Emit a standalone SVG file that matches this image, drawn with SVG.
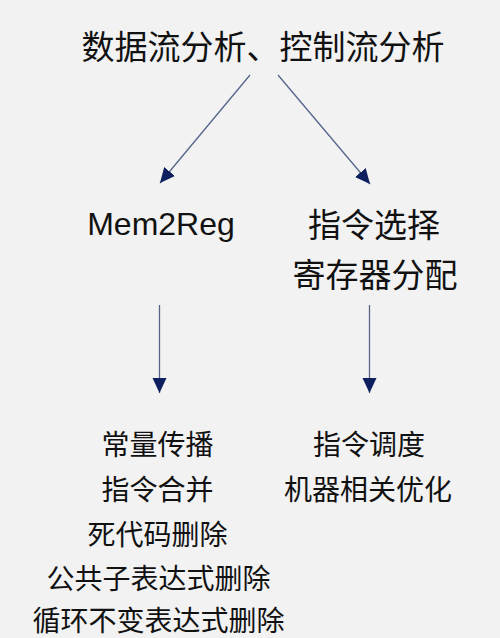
<svg xmlns="http://www.w3.org/2000/svg" width="500" height="638" viewBox="0 0 500 638">
<style>
.cjk{font-family:"Noto Sans CJK SC","Noto Sans",sans-serif;fill:#111;text-anchor:middle}
.big{font-size:33px}
.small{font-size:28px}
.lat{font-family:"Liberation Sans",Arial,sans-serif;font-size:32px;fill:#111;text-anchor:middle}
.edge{stroke:#56648c;stroke-width:1.3;fill:none;marker-end:url(#ah)}
</style>
<defs>
<marker id="ah" markerUnits="userSpaceOnUse" markerWidth="17" markerHeight="15" refX="15" refY="7" orient="auto">
<path d="M0,0 L15,7 L0,14 Z" fill="#0d1f5e"/>
</marker>
</defs>
<rect width="500" height="638" fill="#f2f2f2"/>
<g id="connectors">
<line class="edge" x1="250" y1="75" x2="160" y2="183"/>
<line class="edge" x1="278" y1="75" x2="370" y2="184"/>
<line class="edge" x1="159.5" y1="305" x2="159.5" y2="393"/>
<line class="edge" x1="369.5" y1="305" x2="369.5" y2="393"/>
</g>
<g id="analysis"><text class="cjk big" x="263" y="58.5">数据流分析、控制流分析</text></g>
<g id="mem2reg"><text class="lat" x="161" y="235">Mem2Reg</text></g>
<g id="isel-regalloc">
<text class="cjk big" x="374" y="236.5">指令选择</text>
<text class="cjk big" x="375" y="286.5">寄存器分配</text>
</g>
<g id="mid-opts">
<text class="cjk small" x="157.5" y="455">常量传播</text>
<text class="cjk small" x="157.5" y="500">指令合并</text>
<text class="cjk small" x="157.5" y="545">死代码删除</text>
<text class="cjk small" x="158.5" y="589">公共子表达式删除</text>
<text class="cjk small" x="158.5" y="631">循环不变表达式删除</text>
</g>
<g id="backend-opts">
<text class="cjk small" x="369" y="455">指令调度</text>
<text class="cjk small" x="368" y="500">机器相关优化</text>
</g>
</svg>
